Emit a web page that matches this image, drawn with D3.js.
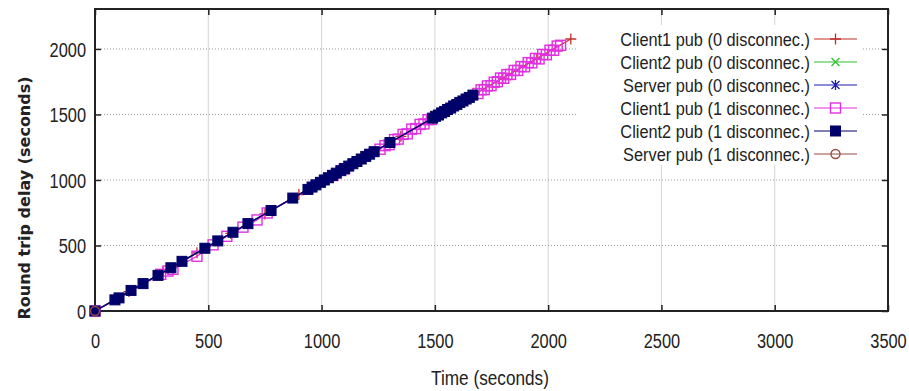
<!DOCTYPE html>
<html><head><meta charset="utf-8">
<script src="https://cdn.jsdelivr.net/npm/d3@7"></script>
<style>body{margin:0;background:#fff}svg{display:block}</style>
</head><body>
<script>
// ---- data ----
const xTicks = [0,500,1000,1500,2000,2500,3000,3500];
const yTicks = [0,500,1000,1500,2000];
const seriesNames = ["Client1 pub (0 disconnec.)","Client2 pub (0 disconnec.)","Server pub (0 disconnec.)","Client1 pub (1 disconnec.)","Client2 pub (1 disconnec.)","Server pub (1 disconnec.)"];
const client1Pub0 = [[0,0],[150,148],[300,296],[450,444],[600,592],[750,741],[900,889],[1050,1037],[1200,1185],[1350,1333],[1500,1481],[1650,1630],[1800,1778],[1950,1926],[2100,2076]];
const client2Pub0 = [[0,0],[159,157],[384,379],[609,601],[873,862],[1105,1091],[1302,1286],[1538,1519],[1646,1626]];
const serverPub0 = [[0,0],[212,209],[485,479],[777,767],[1000,988],[1225,1210],[1514,1496],[1622,1602]];
const client1Pub1 = [[0,0],[290,280],[322,305],[344,318],[450,418],[521,505],[582,570],[653,640],[715,695],[760,748],[1050,1034],[1100,1083],
  [1258,1235],[1280,1262],[1298,1270],[1322,1308],[1338,1312],[1360,1348],[1378,1352],[1398,1388],[1415,1392],[1435,1424],[1452,1428],[1470,1460],[1485,1462],
  [1690,1660],[1704,1688],[1718,1690],[1732,1718],[1748,1720],[1762,1746],[1776,1750],[1790,1778],[1804,1776],[1818,1804],[1834,1806],[1850,1836],[1866,1836],[1880,1866],[1896,1864],[1912,1896],[1928,1894],[1944,1928],[1960,1924],[1976,1958],[1992,1956],[2008,1990],[2024,1990],[2040,2022],[2055,2028]];
const client2Pub1 = [[0,0],[88,85],[106,100],[159,157],[212,209],[278,272],[335,330],[384,379],[485,479],[542,535],[609,601],[675,667],[777,767],[873,862],
  [940,928],[958,946],[975,963],[995,982],[1012,1000],[1030,1017],[1048,1035],[1065,1052],[1085,1071],[1102,1088],[1120,1106],[1138,1124],[1156,1141],[1175,1160],[1195,1180],[1212,1197],[1232,1216],
  [1302,1286],
  [1490,1472],[1503,1486],[1516,1496],[1530,1512],[1543,1523],[1556,1538],[1570,1549],[1583,1565],[1597,1576],[1610,1592],[1624,1603],[1638,1618],[1652,1630],[1668,1648]];
const serverPub1 = [[0,0]];
const seriesData = [client1Pub0, client2Pub0, serverPub0, client1Pub1, client2Pub1, serverPub1];
const seriesColors = ["#c0302a","#30c030","#1a1ab0","#e030e0","#00006a","#9a4a40"];
const seriesMarkers = ["plus","cross","star","square","fsquare","circle"];

const W = 909, H = 391;
const svg = d3.select("body").append("svg").attr("width",W).attr("height",H);
const L = 95, R = 888, T = 9, B = 311;
const x = d3.scaleLinear().domain([0,3500]).range([L,R]);
const y = d3.scaleLinear().domain([0,2305]).range([B,T]);
const FONT = "'Liberation Sans', Arial, sans-serif";
const TSX = 0.8; // horizontal squeeze for tick labels

// grid
const g = svg.append("g");
g.selectAll("line.vg").data(xTicks.filter(t=>t>0 && t<3500)).join("line")
  .attr("x1",d=>x(d)).attr("x2",d=>x(d)).attr("y1",T).attr("y2",B)
  .attr("stroke","#d4d4d4").attr("stroke-width",1);
g.selectAll("line.hg").data(yTicks.filter(t=>t>0)).join("line")
  .attr("x1",L).attr("x2",R).attr("y1",d=>y(d)).attr("y2",d=>y(d))
  .attr("stroke","#9a9a9a").attr("stroke-width",1).attr("stroke-dasharray","1,2");

// legend opaque background
svg.append("rect").attr("x",577).attr("y",25).attr("width",286).attr("height",140).attr("fill","#fff");

// axes (inward ticks)
const axB = svg.append("g").attr("transform",`translate(0,${B})`).call(d3.axisBottom(x).tickValues(xTicks).tickSize(-6).tickPadding(22).tickFormat(d3.format("d")));
const axT = svg.append("g").attr("transform",`translate(0,${T})`).call(d3.axisTop(x).tickValues(xTicks).tickSize(-6).tickFormat(""));
const axL = svg.append("g").attr("transform",`translate(${L},0)`).call(d3.axisLeft(y).tickValues(yTicks).tickSize(-6).tickFormat(d3.format("d")));
const axRt = svg.append("g").attr("transform",`translate(${R},0)`).call(d3.axisRight(y).tickValues(yTicks).tickSize(-6).tickFormat(""));
[axB,axT,axL,axRt].forEach(a=>{
  a.select(".domain").remove();
  a.selectAll(".tick line").attr("stroke","#222").attr("stroke-width",1.5);
  a.selectAll("text").attr("font-family",FONT).attr("font-size",20.5).attr("fill","#222")
    .attr("transform",`scale(${TSX},1)`);
});
axL.selectAll("text").attr("x",-9/TSX).attr("dy","0.35em");

// frame
svg.append("rect").attr("x",L).attr("y",T).attr("width",R-L).attr("height",B-T)
  .attr("fill","none").attr("stroke","#222").attr("stroke-width",2);

// markers
function drawMarker(sel, type, color, cx, cy){
  const s = 5.5;
  if(type==="plus"){
    sel.append("path").attr("d",`M${cx-s},${cy}H${cx+s}M${cx},${cy-s}V${cy+s}`).attr("stroke",color).attr("stroke-width",1.3).attr("fill","none");
  } else if(type==="cross"){
    sel.append("path").attr("d",`M${cx-4},${cy-4}L${cx+4},${cy+4}M${cx-4},${cy+4}L${cx+4},${cy-4}`).attr("stroke",color).attr("stroke-width",1.3).attr("fill","none");
  } else if(type==="star"){
    sel.append("path").attr("d",`M${cx-4},${cy-4}L${cx+4},${cy+4}M${cx-4},${cy+4}L${cx+4},${cy-4}M${cx},${cy-5}V${cy+5}`).attr("stroke",color).attr("stroke-width",1.3).attr("fill","none");
  } else if(type==="square"){
    sel.append("rect").attr("x",cx-5).attr("y",cy-5).attr("width",10).attr("height",10).attr("fill","none").attr("stroke",color).attr("stroke-width",1.4);
  } else if(type==="fsquare"){
    sel.append("rect").attr("x",cx-5).attr("y",cy-5).attr("width",10).attr("height",10).attr("fill",color).attr("stroke",color).attr("stroke-width",1);
  } else if(type==="circle"){
    sel.append("circle").attr("cx",cx).attr("cy",cy).attr("r",4.5).attr("fill","none").attr("stroke",color).attr("stroke-width",1.4);
  }
}

// series
const line = d3.line().x(d=>x(d[0])).y(d=>y(d[1]));
seriesData.forEach((data,i)=>{
  const sg = svg.append("g");
  sg.append("path").datum(data).attr("d",line).attr("fill","none").attr("stroke",seriesColors[i]).attr("stroke-width",1.3);
  data.forEach(d=>drawMarker(sg, seriesMarkers[i], seriesColors[i], x(d[0]), y(d[1])));
});

// legend
const rowY0 = 39, rowDy = 23;
seriesNames.forEach((name,i)=>{
  const yy = rowY0 + i*rowDy;
  svg.append("text").attr("transform",`translate(810,${yy}) scale(0.86,1)`).attr("dy","0.35em").attr("text-anchor","end")
    .attr("font-family",FONT).attr("font-size",19).attr("fill","#222").text(name);
  svg.append("line").attr("x1",814).attr("x2",857).attr("y1",yy).attr("y2",yy).attr("stroke",seriesColors[i]).attr("stroke-width",1.2);
  drawMarker(svg, seriesMarkers[i], seriesColors[i], 835.5, yy);
});

// axis titles
svg.append("text").attr("transform","translate(490,378) scale(0.86,1)").attr("dy","0.35em").attr("text-anchor","middle")
  .attr("font-family",FONT).attr("font-size",20).attr("fill","#222").text("Time (seconds)");
svg.append("text").attr("transform","translate(24,198) rotate(-90)").attr("dy","0.35em").attr("text-anchor","middle")
  .attr("font-family","'DejaVu Sans', Verdana, sans-serif").attr("font-weight","bold").attr("font-size",16).attr("fill","#222")
  .text("Round trip delay (seconds)");
</script>
</body></html>
